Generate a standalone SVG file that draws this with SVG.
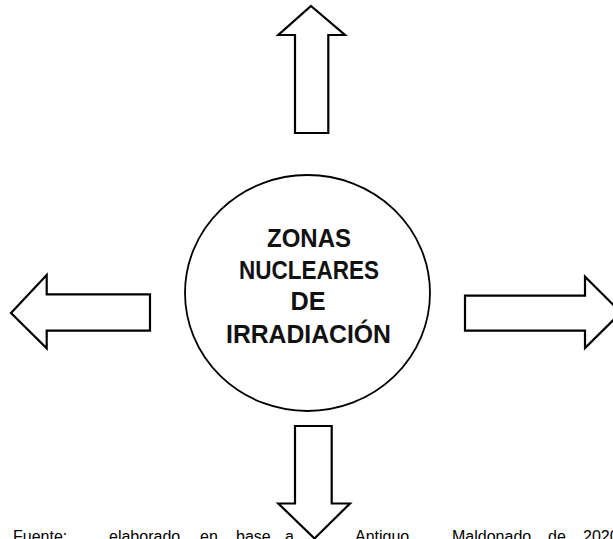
<svg xmlns="http://www.w3.org/2000/svg" width="613" height="539" viewBox="0 0 613 539">
<style>
.arrow{fill:#fff;stroke:#000;stroke-width:2.2;stroke-linejoin:miter}
.lbl{font-family:"Liberation Sans",Arial,sans-serif;font-weight:bold;font-size:25px;fill:#111;text-anchor:middle}
.src{font-family:"Liberation Sans",Arial,sans-serif;font-size:16px;fill:#000}
</style>
<rect width="613" height="539" fill="#fff"/>
<g id="center">
<ellipse cx="307.5" cy="293" rx="122.5" ry="118" fill="#fff" stroke="#000" stroke-width="1.8"/>
<text class="lbl" x="309" y="247.3" textLength="84" lengthAdjust="spacingAndGlyphs">ZONAS</text>
<text class="lbl" x="309" y="278.5" textLength="140" lengthAdjust="spacingAndGlyphs">NUCLEARES</text>
<text class="lbl" x="308" y="310" textLength="35" lengthAdjust="spacingAndGlyphs">DE</text>
<text class="lbl" x="308.5" y="343.3" textLength="165" lengthAdjust="spacingAndGlyphs">IRRADIACIÓN</text>
</g>
<g id="connectors">
<polygon id="arrow-up" class="arrow" points="311,6 345,35 328.3,35 328.3,133 295,133 295,35 278.3,35"/>
<polygon id="arrow-left" class="arrow" points="11,313 46.7,275 46.7,294.3 150,294.3 150,330.7 46.7,330.7 46.7,348.3"/>
<polygon id="arrow-right" class="arrow" points="465,295.7 585,295.7 585,276.7 621,312.5 585,348 585,330.7 465,330.7"/>
<polygon id="arrow-down" class="arrow" points="295,426 331.7,426 331.7,503.5 350,503.5 314.5,538.5 278.3,503.5 295,503.5"/>
</g>
<text class="src" y="542"><tspan x="13">Fuente:</tspan><tspan x="109">elaborado</tspan><tspan x="200">en</tspan><tspan x="236">base</tspan><tspan x="285">a</tspan><tspan x="355">Antiguo</tspan><tspan x="452">Maldonado</tspan><tspan x="548">de</tspan><tspan x="583">2020</tspan></text>
</svg>
